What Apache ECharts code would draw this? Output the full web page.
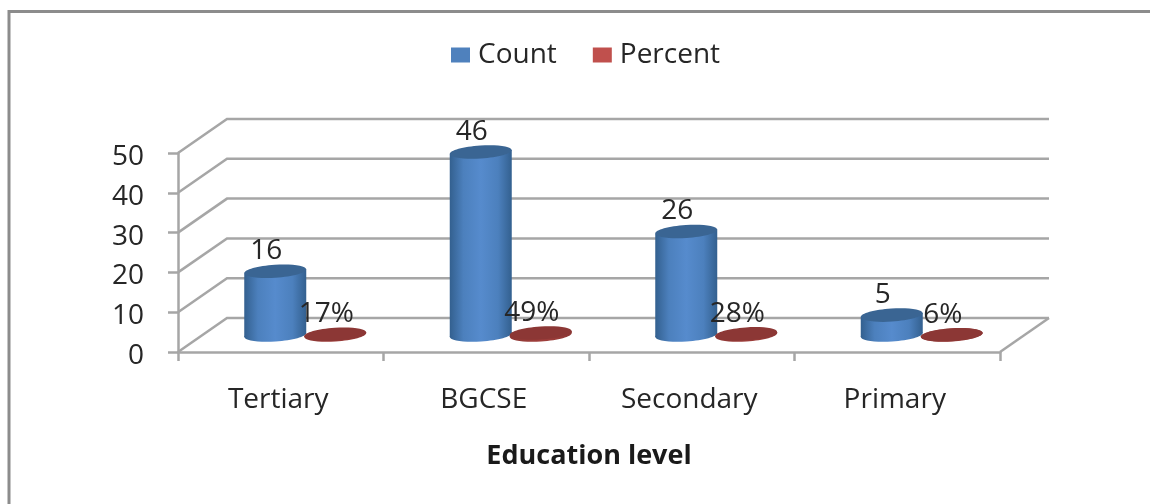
<!DOCTYPE html>
<html>
<head>
<meta charset="utf-8">
<style>html,body{margin:0;padding:0;background:#fff}#chart{width:1150px;height:504px}</style>
<script src="https://cdn.jsdelivr.net/npm/echarts@6/dist/echarts.min.js"></script>
</head>
<body>
<div id="chart"></div>
<script>
// Education level of respondents
const categories = ['Tertiary', 'BGCSE', 'Secondary', 'Primary'];
const countValues = [16, 46, 26, 5];
const percentValues = [0.17, 0.49, 0.28, 0.06];
const yTicks = [0, 10, 20, 30, 40, 50];

// Oblique projection of the chart box, in pixels
const DEPTH_X = 49;
const DEPTH_Y = -34;
const BAR_OFFSET = 30;
const BAR_RX = 31;
const BAR_RY = 6.5;
const TILT_Y = 2;

const FONT = '"Open Sans", sans-serif';
const TEXT_COLOR = '#262626';
const AXIS_COLOR = '#a6a6a6';

function cylinder(barShift, cols, fmt) {
  return function (params, api) {
    const i = api.value(0);
    const v = api.value(1);
    const base = api.coord([i, 0]);
    const top = api.coord([i, v]);
    const cx = base[0] + DEPTH_X / 2 + barShift;
    const by = base[1] + DEPTH_Y / 2;
    const ty = top[1] + DEPTH_Y / 2;
    const grad = new echarts.graphic.LinearGradient(0, 0, 1, 0, [
      { offset: 0, color: cols[0] },
      { offset: 0.22, color: cols[1] },
      { offset: 0.5, color: cols[2] },
      { offset: 0.78, color: cols[1] },
      { offset: 1, color: cols[0] }
    ]);
    return {
      type: 'group',
      children: [
        {
          type: 'ellipse',
          shape: { cx: cx, cy: by, rx: BAR_RX, ry: BAR_RY },
          rotation: TILT_Y / BAR_RX,
          originX: cx, originY: by,
          style: { fill: grad }
        },
        {
          type: 'polygon',
          shape: { points: [
            [cx - BAR_RX, ty + TILT_Y], [cx + BAR_RX, ty - TILT_Y],
            [cx + BAR_RX, by - TILT_Y], [cx - BAR_RX, by + TILT_Y]
          ] },
          style: { fill: grad }
        },
        {
          type: 'ellipse',
          shape: { cx: cx, cy: ty, rx: BAR_RX, ry: BAR_RY },
          rotation: TILT_Y / BAR_RX,
          originX: cx, originY: ty,
          style: { fill: cols[3] }
        },
        {
          type: 'text',
          x: cx - 9, y: ty - 20,
          style: {
            text: fmt(v), font: '28px ' + FONT, fill: TEXT_COLOR,
            align: 'center', verticalAlign: 'middle'
          }
        }
      ]
    };
  };
}

// Wall and floor lines receding from the front plane
function wallLines(params, api) {
  const v = api.value(0);
  const half = api.size([1, 0])[0] / 2;
  const front = api.coord([0, v]);
  const a = [front[0] - half, front[1]];
  const b = [a[0] + DEPTH_X, a[1] + DEPTH_Y];
  const d = [api.coord([categories.length - 1, v])[0] + half, a[1]];
  const c = [d[0] + DEPTH_X, b[1]];
  const children = [{
    type: 'polyline',
    shape: { points: [a, b, c] },
    style: { stroke: AXIS_COLOR, lineWidth: 2.5, fill: null }
  }];
  if (v === 0) {
    children.push({
      type: 'line',
      shape: { x1: d[0], y1: d[1], x2: c[0], y2: c[1] },
      style: { stroke: AXIS_COLOR, lineWidth: 2.5 }
    });
  }
  return { type: 'group', children: children };
}

const chart = echarts.init(document.getElementById('chart'), null, { renderer: 'canvas' });
chart.setOption({
  animation: false,
  backgroundColor: '#fff',
  graphic: [{
    type: 'polyline',
    silent: true,
    shape: { points: [[9, 504], [9, 11.5], [1150, 11.5]] },
    style: { stroke: '#8c8c8c', lineWidth: 3, fill: null }
  }],
  legend: {
    left: 446, top: 36,
    itemWidth: 19, itemHeight: 15, itemGap: 36,
    icon: 'rect',
    data: ['Count', 'Percent'],
    textStyle: { fontFamily: FONT, fontSize: 28, color: TEXT_COLOR, padding: [0, 0, 0, 3] }
  },
  grid: { left: 178, top: 153, width: 822, height: 199 },
  xAxis: {
    type: 'category',
    data: categories,
    axisLine: { lineStyle: { color: AXIS_COLOR, width: 2.5 } },
    axisTick: { show: true, length: 9, lineStyle: { color: AXIS_COLOR, width: 2.5 } },
    axisLabel: { margin: 34, fontFamily: FONT, fontSize: 28, color: TEXT_COLOR, interval: 0, padding: [0, 5, 0, 0] },
    name: 'Education level',
    nameLocation: 'middle',
    nameGap: 91,
    nameTextStyle: { fontFamily: FONT, fontSize: 27, fontWeight: 'bold', color: '#1a1a1a' }
  },
  yAxis: {
    type: 'value',
    min: 0, max: 50, interval: 10,
    axisLine: { show: true, lineStyle: { color: AXIS_COLOR, width: 2.5 } },
    axisTick: { show: true, length: 10, lineStyle: { color: AXIS_COLOR, width: 2.5 } },
    axisLabel: {
      margin: 34,
      formatter: '{tick|{value}}',
      rich: { tick: { fontFamily: FONT, fontSize: 28, color: TEXT_COLOR, padding: [8, 0, 0, 0] } }
    },
    splitLine: { show: false }
  },
  series: [
    {
      type: 'custom', name: 'walls', coordinateSystem: 'cartesian2d', silent: true,
      renderItem: wallLines, data: yTicks.map(v => [v]), encode: { y: 0 }, z: 1
    },
    {
      type: 'custom', name: 'Count', coordinateSystem: 'cartesian2d',
      itemStyle: { color: '#4f81bd' },
      renderItem: cylinder(-BAR_OFFSET, ['#33608f', '#4c80bd', '#568bcd', '#3a6593'], v => String(v)),
      data: countValues.map((v, i) => [i, v]), encode: { x: 0, y: 1 }, z: 2
    },
    {
      type: 'custom', name: 'Percent', coordinateSystem: 'cartesian2d',
      itemStyle: { color: '#c0504d' },
      renderItem: cylinder(BAR_OFFSET, ['#8c3735', '#963b38', '#a03f3c', '#8c3735'], v => Math.round(v * 100) + '%'),
      data: percentValues.map((v, i) => [i, v]), encode: { x: 0, y: 1 }, z: 3
    }
  ]
});
</script>
</body>
</html>
